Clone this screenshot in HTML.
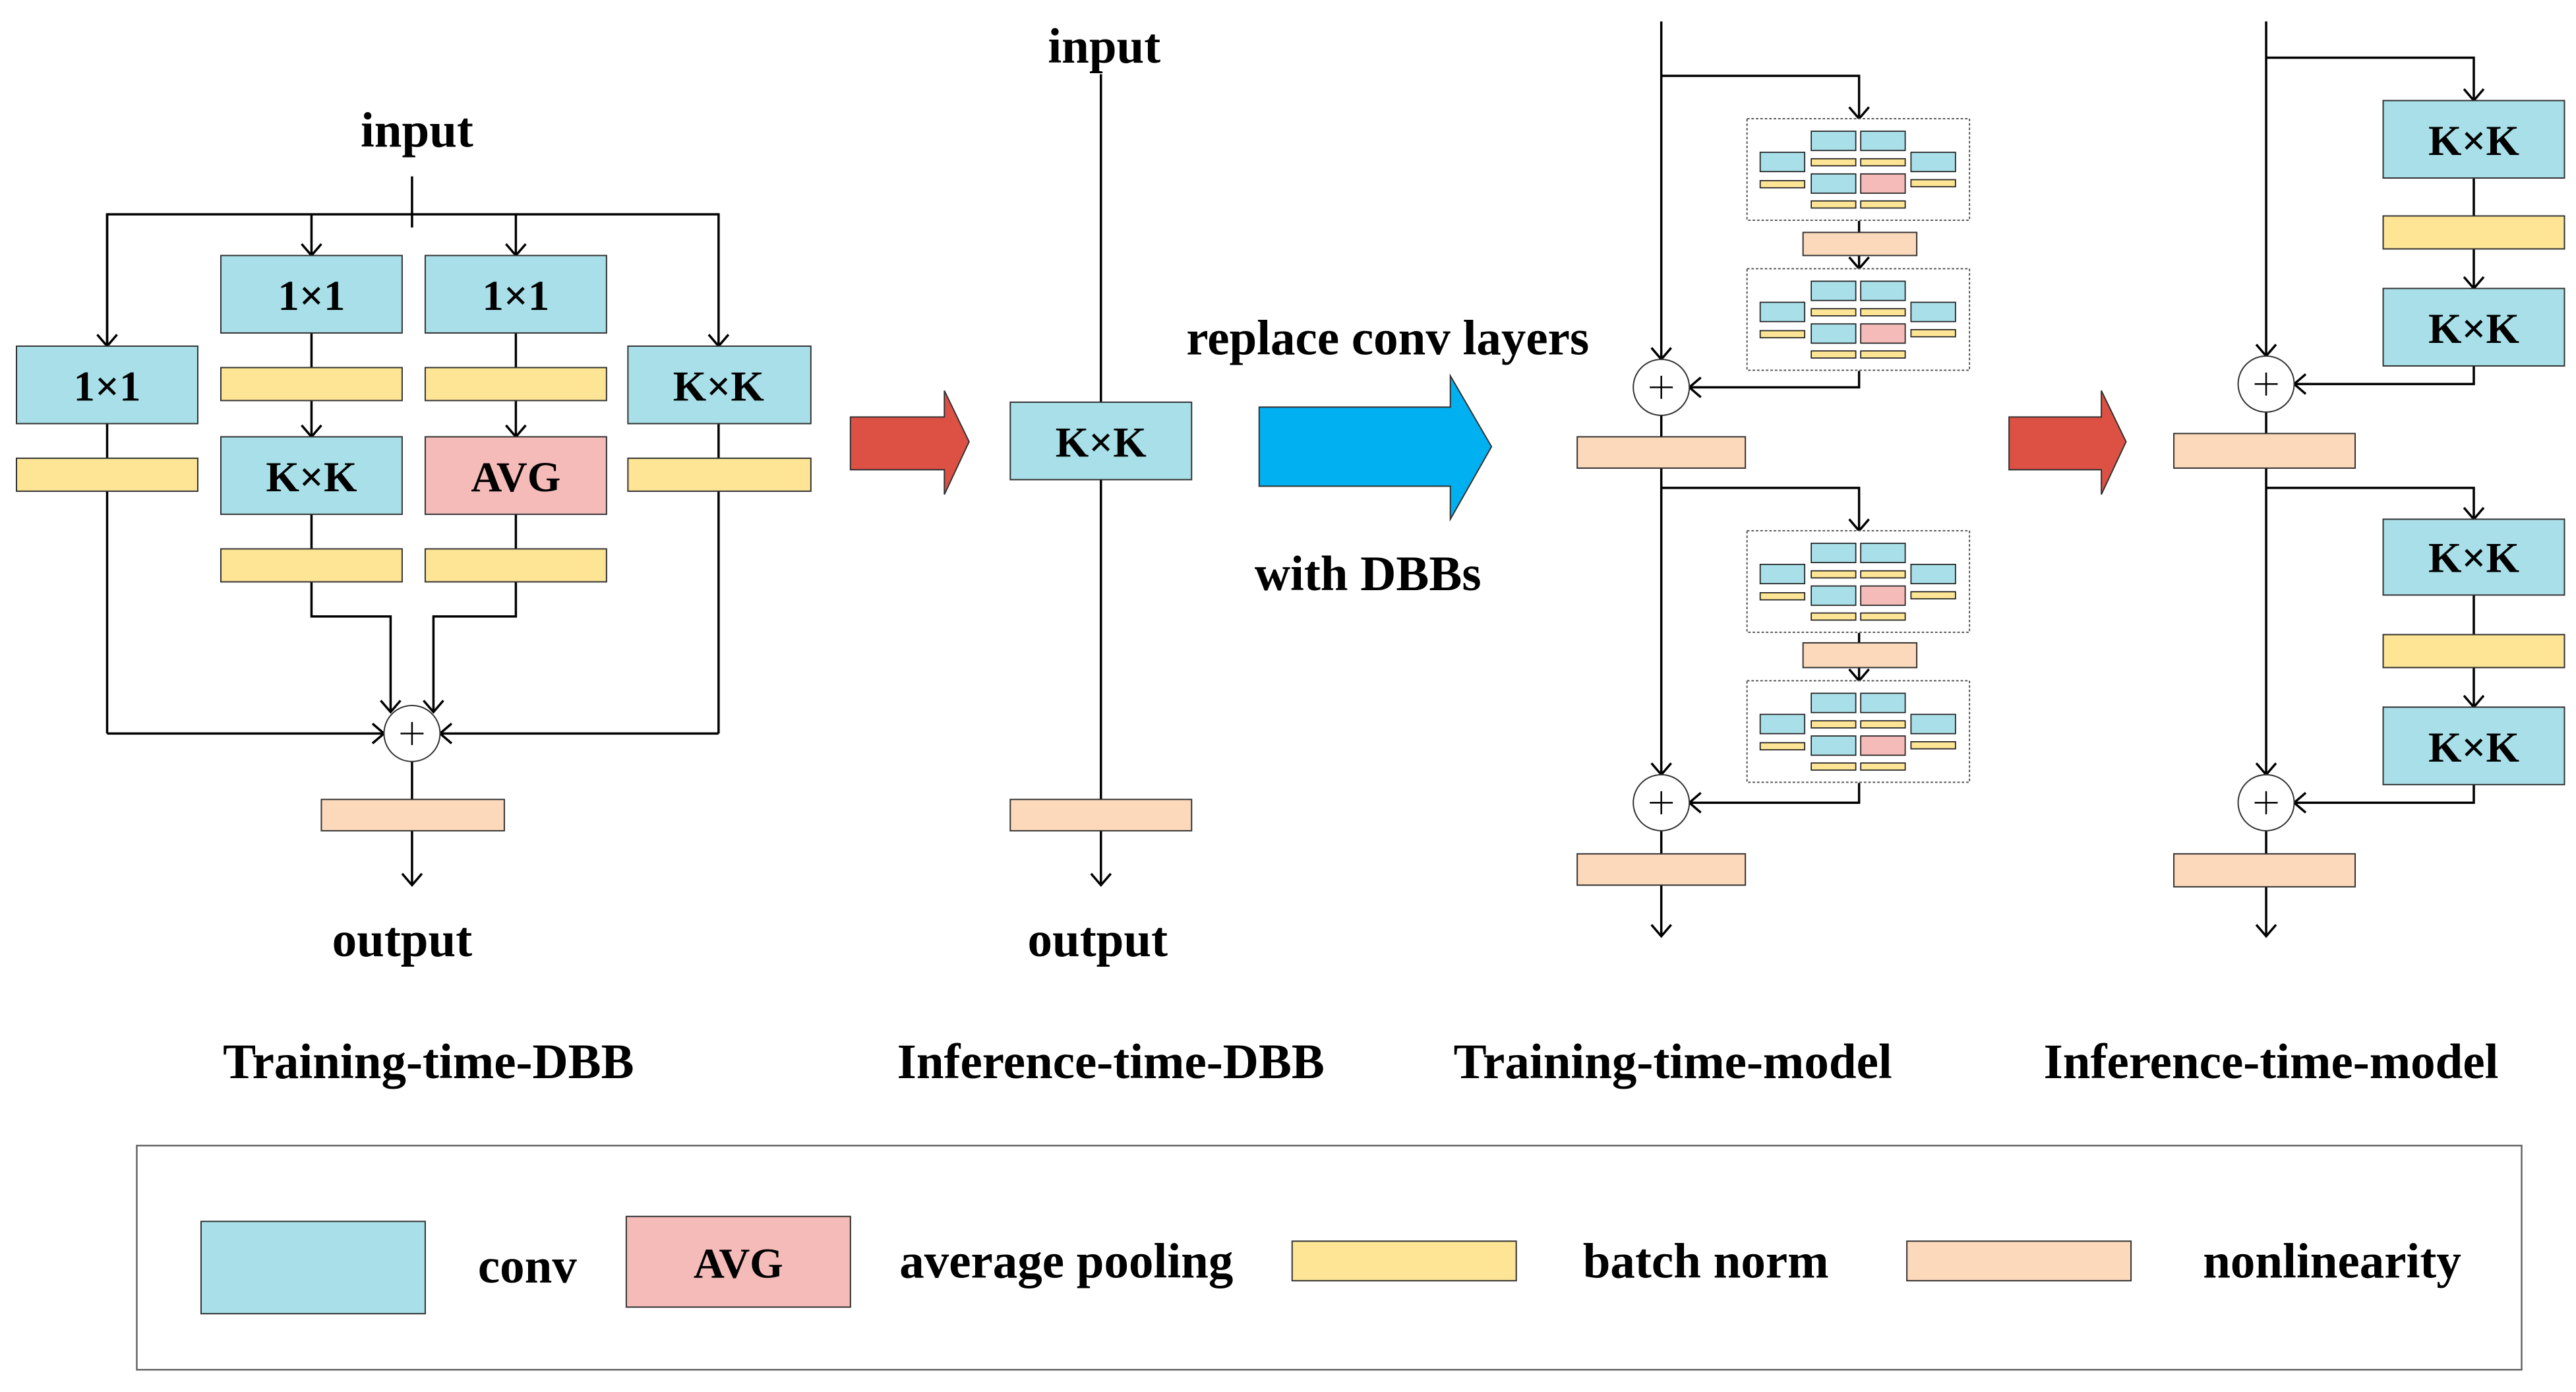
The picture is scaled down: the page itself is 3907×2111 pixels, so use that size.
<!DOCTYPE html>
<html><head><meta charset="utf-8"><style>
html,body{margin:0;padding:0;background:#fff;}
svg{display:block;}
text{font-family:"Liberation Serif",serif;font-weight:bold;fill:#000;text-anchor:middle;}
</style></head><body>
<svg width="3907" height="2111" viewBox="0 0 1563 844.5" xmlns="http://www.w3.org/2000/svg">
<defs>
<marker id="ah" markerWidth="14" markerHeight="14" refX="11" refY="7" orient="auto" markerUnits="userSpaceOnUse">
<polyline points="4,1 11,7 4,13" fill="none" stroke="#000" stroke-width="1.4"/>
</marker>
<g id="mini">
<rect x="0" y="0" width="135" height="61.6" fill="#fff" stroke="#555" stroke-width="0.8" stroke-dasharray="1.5,1.2"/>
<g stroke="#222" stroke-width="0.7">
<rect x="39" y="7.6" width="27" height="11.7" fill="#a8dfe8"/>
<rect x="69" y="7.6" width="27" height="11.7" fill="#a8dfe8"/>
<rect x="8" y="20.4" width="27" height="11.7" fill="#a8dfe8"/>
<rect x="99.5" y="20.4" width="27" height="11.7" fill="#a8dfe8"/>
<rect x="39" y="24.3" width="27" height="4.3" fill="#fde595"/>
<rect x="69" y="24.3" width="27" height="4.3" fill="#fde595"/>
<rect x="8" y="37.6" width="27" height="4.3" fill="#fde595"/>
<rect x="99.5" y="37" width="27" height="4.3" fill="#fde595"/>
<rect x="39" y="33.5" width="27" height="11.7" fill="#a8dfe8"/>
<rect x="69" y="33.5" width="27" height="11.7" fill="#f4bbb9"/>
<rect x="39" y="49.9" width="27" height="4.3" fill="#fde595"/>
<rect x="69" y="49.9" width="27" height="4.3" fill="#fde595"/>
</g>
</g>
</defs>
<g stroke="#000" stroke-width="1.4" fill="none">
<line x1="250" y1="107" x2="250" y2="138"/>
<polyline points="65,210 65,130 436,130 436,210" marker-end="url(#ah)"/>
<line x1="65" y1="130" x2="65" y2="210" marker-end="url(#ah)"/>
<line x1="189" y1="130" x2="189" y2="155" marker-end="url(#ah)"/>
<line x1="313" y1="130" x2="313" y2="155" marker-end="url(#ah)"/>
<line x1="189" y1="202" x2="189" y2="265" marker-end="url(#ah)"/>
<line x1="313" y1="202" x2="313" y2="265" marker-end="url(#ah)"/>
<line x1="65" y1="257" x2="65" y2="445"/>
<line x1="65" y1="445" x2="233" y2="445" marker-end="url(#ah)"/>
<line x1="436" y1="257" x2="436" y2="445"/>
<line x1="436" y1="445" x2="267" y2="445" marker-end="url(#ah)"/>
<polyline points="189,312 189,374 237,374 237,432" marker-end="url(#ah)"/>
<polyline points="313,312 313,374 263,374 263,432" marker-end="url(#ah)"/>
<line x1="250" y1="462" x2="250" y2="485"/>
<line x1="250" y1="504" x2="250" y2="537" marker-end="url(#ah)"/>
<line x1="668" y1="45" x2="668" y2="537" marker-end="url(#ah)"/>
<line x1="1008" y1="13" x2="1008" y2="218" marker-end="url(#ah)"/>
<polyline points="1008,46 1128,46 1128,72" marker-end="url(#ah)"/>
<line x1="1128" y1="134" x2="1128" y2="163" marker-end="url(#ah)"/>
<polyline points="1128,225 1128,235 1025,235" marker-end="url(#ah)"/>
<line x1="1008" y1="252" x2="1008" y2="470" marker-end="url(#ah)"/>
<polyline points="1008,296 1128,296 1128,322" marker-end="url(#ah)"/>
<line x1="1128" y1="384" x2="1128" y2="413" marker-end="url(#ah)"/>
<polyline points="1128,475 1128,487 1025,487" marker-end="url(#ah)"/>
<line x1="1008" y1="504" x2="1008" y2="568" marker-end="url(#ah)"/>
<line x1="1375" y1="13" x2="1375" y2="216" marker-end="url(#ah)"/>
<polyline points="1375,35 1501,35 1501,61" marker-end="url(#ah)"/>
<line x1="1501" y1="108" x2="1501" y2="175" marker-end="url(#ah)"/>
<polyline points="1501,222 1501,233 1392,233" marker-end="url(#ah)"/>
<line x1="1375" y1="250" x2="1375" y2="470" marker-end="url(#ah)"/>
<polyline points="1375,296 1501,296 1501,315" marker-end="url(#ah)"/>
<line x1="1501" y1="361" x2="1501" y2="429" marker-end="url(#ah)"/>
<polyline points="1501,476 1501,487 1392,487" marker-end="url(#ah)"/>
<line x1="1375" y1="504" x2="1375" y2="568" marker-end="url(#ah)"/>
</g>
<g stroke="#333" stroke-width="0.8">
<rect x="134" y="155" width="110" height="47" fill="#a8dfe8"/>
<rect x="258" y="155" width="110" height="47" fill="#a8dfe8"/>
<rect x="10" y="210" width="110" height="47" fill="#a8dfe8"/>
<rect x="381" y="210" width="111" height="47" fill="#a8dfe8"/>
<rect x="134" y="223" width="110" height="20" fill="#fde595"/>
<rect x="258" y="223" width="110" height="20" fill="#fde595"/>
<rect x="10" y="278" width="110" height="20" fill="#fde595"/>
<rect x="381" y="278" width="111" height="20" fill="#fde595"/>
<rect x="134" y="265" width="110" height="47" fill="#a8dfe8"/>
<rect x="258" y="265" width="110" height="47" fill="#f4bbb9"/>
<rect x="134" y="333" width="110" height="20" fill="#fde595"/>
<rect x="258" y="333" width="110" height="20" fill="#fde595"/>
<circle cx="250" cy="445" r="17" fill="#fff"/>
<rect x="195" y="485" width="111" height="19" fill="#fdd9bb"/>
<rect x="613" y="244" width="110" height="47" fill="#a8dfe8"/>
<rect x="613" y="485" width="110" height="19" fill="#fdd9bb"/>
<circle cx="1008" cy="235" r="17" fill="#fff"/>
<rect x="957" y="265" width="102" height="19" fill="#fdd9bb"/>
<rect x="1094" y="141" width="69" height="14" fill="#fdd9bb"/>
<rect x="1094" y="390" width="69" height="15" fill="#fdd9bb"/>
<circle cx="1008" cy="487" r="17" fill="#fff"/>
<rect x="957" y="518" width="102" height="19" fill="#fdd9bb"/>
<rect x="1446" y="61" width="110" height="47" fill="#a8dfe8"/>
<rect x="1446" y="131" width="110" height="20" fill="#fde595"/>
<rect x="1446" y="175" width="110" height="47" fill="#a8dfe8"/>
<circle cx="1375" cy="233" r="17" fill="#fff"/>
<rect x="1319" y="263" width="110" height="21" fill="#fdd9bb"/>
<rect x="1446" y="315" width="110" height="46" fill="#a8dfe8"/>
<rect x="1446" y="385" width="110" height="20" fill="#fde595"/>
<rect x="1446" y="429" width="110" height="47" fill="#a8dfe8"/>
<circle cx="1375" cy="487" r="17" fill="#fff"/>
<rect x="1319" y="518" width="110" height="20" fill="#fdd9bb"/>
</g>
<use href="#mini" x="1060" y="72"/>
<use href="#mini" x="1060" y="163"/>
<use href="#mini" x="1060" y="322"/>
<use href="#mini" x="1060" y="413"/>
<g stroke="#000" stroke-width="1">
<path d="M243,445h14M250,438v14"/>
<path d="M1001,235h14M1008,228v14"/>
<path d="M1001,487h14M1008,480v14"/>
<path d="M1368,233h14M1375,226v14"/>
<path d="M1368,487h14M1375,480v14"/>
</g>
<g stroke="#333" stroke-width="0.8">
<polygon points="516,253 573,253 573,237 588,268 573,300 573,285 516,285" fill="#dd5044"/>
<polygon points="1219,253 1275,253 1275,237 1290,268 1275,300 1275,285 1219,285" fill="#dd5044"/>
<polygon points="764,247 880,247 880,228 905,271 880,315 880,295 764,295" fill="#00b0f0"/>
</g>
<rect x="83" y="695" width="1447" height="136" fill="none" stroke="#666" stroke-width="1"/>
<g stroke="#333" stroke-width="0.8">
<rect x="122" y="741" width="136" height="56" fill="#a8dfe8"/>
<rect x="380" y="738" width="136" height="55" fill="#f4bbb9"/>
<rect x="784" y="753" width="136" height="24" fill="#fde595"/>
<rect x="1157" y="753" width="136" height="24" fill="#fdd9bb"/>
</g>
<g font-size="26">
<text x="65" y="243">1×1</text>
<text x="189" y="188">1×1</text>
<text x="313" y="188">1×1</text>
<text x="436" y="243">K×K</text>
<text x="189" y="298">K×K</text>
<text x="313" y="298">AVG</text>
<text x="668" y="277">K×K</text>
<text x="1501" y="94">K×K</text>
<text x="1501" y="208">K×K</text>
<text x="1501" y="347">K×K</text>
<text x="1501" y="462">K×K</text>
<text x="448" y="775">AVG</text>
</g>
<g font-size="30">
<text x="253" y="89">input</text>
<text x="244" y="580">output</text>
<text x="670" y="38">input</text>
<text x="666" y="580">output</text>
<text x="842" y="215">replace conv layers</text>
<text x="830" y="358">with DBBs</text>
<text x="260" y="654">Training-time-DBB</text>
<text x="674" y="654">Inference-time-DBB</text>
<text x="1015" y="654">Training-time-model</text>
<text x="1378" y="654">Inference-time-model</text>
<text x="320" y="778">conv</text>
<text x="647" y="775">average pooling</text>
<text x="1035" y="775">batch norm</text>
<text x="1415" y="775">nonlinearity</text>
</g>
</svg>
</body></html>
